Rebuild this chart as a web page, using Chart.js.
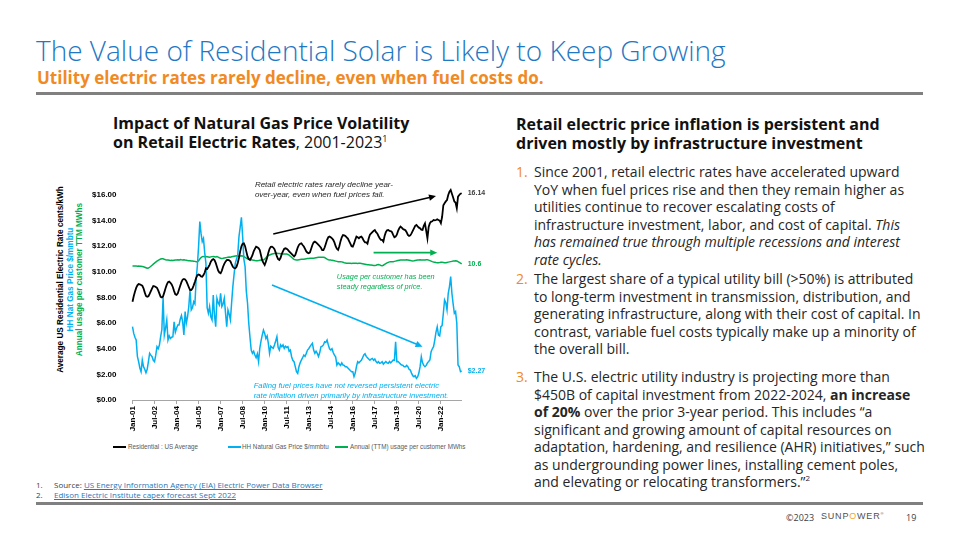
<!DOCTYPE html>
<html>
<head>
<meta charset="utf-8">
<script src="https://cdn.jsdelivr.net/npm/chart.js@4.4.0/dist/chart.umd.min.js"></script>
<style>
  html, body { margin:0; padding:0; background:#fff; }
  body { width:960px; height:540px; position:relative; overflow:hidden; font-family:'Open Sans', sans-serif; color:#1a1a1a; }
  .abs { position:absolute; white-space:nowrap; }
  #title { left:36px; top:36px; font-size:28px; line-height:28px; font-weight:300; color:#1f78c4; }
  #subtitle { left:37px; top:69px; font-size:17px; line-height:17px; font-weight:700; color:#f08a24; }
  .rule { position:absolute; background:#808080; }
  .h2 { font-size:16px; line-height:19px; font-weight:700; color:#111; }
  .item { font-size:14px; line-height:17.5px; color:#262626; }
  .num { color:#f08a24; }
  .foot { font-size:8px; line-height:9.5px; color:#404040; }
  .foot a { color:#2e75b6; text-decoration:underline; }
  .ytitle { position:absolute; width:300px; text-align:center; font-family:'Liberation Sans', Arial, sans-serif; font-weight:700; font-size:8.2px; transform:rotate(-90deg); transform-origin:center center; white-space:nowrap; }
  .leg { position:absolute; font-family:'Liberation Sans', Arial, sans-serif; font-size:6.3px; color:#595959; white-space:nowrap; }
  .legline { position:absolute; height:2px; }
  #chartwrap { position:absolute; left:40px; top:175px; width:480px; height:265px; }
</style>
</head>
<body>
<div id="title" class="abs">The Value of Residential Solar is Likely to Keep Growing</div>
<div id="subtitle" class="abs">Utility electric rates rarely decline, even when fuel costs do.</div>
<div class="rule" style="left:36px; top:92px; width:887px; height:3px;"></div>

<div class="abs h2" style="left:113px; top:114px;">Impact of Natural Gas Price Volatility<br>on Retail Electric Rates<span style="font-weight:400">, 2001-2023<sup style="font-size:9px; line-height:0;">1</sup></span></div>
<div class="abs h2" style="left:516px; top:115px;">Retail electric price inflation is persistent and<br>driven mostly by infrastructure investment</div>

<div class="abs item" style="left:516px; top:163px;"><span class="num">1.</span></div>
<div class="abs item" style="left:534px; top:163px;">Since 2001, retail electric rates have accelerated upward<br>YoY when fuel prices rise and then they remain higher as<br>utilities continue to recover escalating costs of<br>infrastructure investment, labor, and cost of capital. <i>This</i><br><i>has remained true through multiple recessions and interest</i><br><i>rate cycles.</i></div>
<div class="abs item" style="left:516px; top:270px;"><span class="num">2.</span></div>
<div class="abs item" style="left:534px; top:270px;">The largest share of a typical utility bill (&gt;50%) is attributed<br>to long-term investment in transmission, distribution, and<br>generating infrastructure, along with their cost of capital. In<br>contrast, variable fuel costs typically make up a minority of<br>the overall bill.</div>
<div class="abs item" style="left:516px; top:368px;"><span class="num">3.</span></div>
<div class="abs item" style="left:534px; top:368px;">The U.S. electric utility industry is projecting more than<br>$450B of capital investment from 2022-2024, <b>an increase</b><br><b>of 20%</b> over the prior 3-year period. This includes “a<br>significant and growing amount of capital resources on<br>adaptation, hardening, and resilience (AHR) initiatives,” such<br>as undergrounding power lines, installing cement poles,<br>and elevating or relocating transformers.”<sup style="font-size:8px; line-height:0;">2</sup></div>

<div class="abs foot" style="left:36px; top:480px;">1.</div>
<div class="abs foot" style="left:54px; top:480px;">Source: <a>US Energy Information Agency (EIA) Electric Power Data Browser</a></div>
<div class="abs foot" style="left:36px; top:489.5px;">2.</div>
<div class="abs foot" style="left:54px; top:489.5px;"><a>Edison Electric Institute capex forecast Sept 2022</a></div>
<div class="rule" style="left:36px; top:502px; width:887px; height:3px;"></div>
<div class="abs" style="left:786px; top:511px; font-size:9px; color:#404040;">©2023</div>
<div class="abs" style="left:821px; top:510.5px; font-size:9px; letter-spacing:0.8px; color:#505050; font-family:'Liberation Sans', Arial, sans-serif;">SUNP<span style="color:#f5a623;">O</span>WER<sup style="font-size:4px;">®</sup></div>
<div class="abs" style="left:906px; top:511px; font-size:9px; color:#404040;">19</div>

<div class="ytitle" style="left:-90px; top:275px; color:#000;">Average US Residential Electric Rate cents/kWh</div>
<div class="ytitle" style="left:-80px; top:275px; color:#00b0f0;">HH Nat Gas Price $/mmbtu</div>
<div class="ytitle" style="left:-71px; top:275px; color:#00b050;">Annual usage per customer TTM MWhs</div>

<div id="chartwrap"><canvas id="c" width="480" height="265"></canvas></div>

<div class="legline" style="left:113px; top:446px; width:13px; background:#000;"></div>
<div class="leg" style="left:128px; top:443px;">Residential : US Average</div>
<div class="legline" style="left:228px; top:446px; width:13px; background:#00b0f0;"></div>
<div class="leg" style="left:242px; top:443px;">HH Natural Gas Price $/mmbtu</div>
<div class="legline" style="left:335px; top:446px; width:13px; background:#00b050;"></div>
<div class="leg" style="left:350px; top:443px;">Annual (TTM) usage per customer MWhs</div>

<script>
// ---- DATA ----
const monthNames = ['Jan','Feb','Mar','Apr','May','Jun','Jul','Aug','Sep','Oct','Nov','Dec'];
const firstYear = 2001, lastYear = 2023, lastMonthIndex = 5; // Jan-01 .. Jun-23
const categories = [];
for (let y = firstYear; y <= lastYear; y++) {
  for (let m = 0; m < 12; m++) {
    if (y === lastYear && m > lastMonthIndex) break;
    categories.push(monthNames[m] + '-' + String(y).slice(2));
  }
}
const tickLabels = ['Jan-01','Jul-02','Jan-04','Jul-05','Jan-07','Jul-08','Jan-10','Jul-11','Jan-13','Jul-14','Jan-16','Jul-17','Jan-19','Jul-20','Jan-22'];
const yTicks = [0,2,4,6,8,10,12,14,16];

// Average US residential electric rate, cents/kWh (monthly)
const residential = [
  7.67, 8.10, 8.45, 8.75, 8.95, 9.05, 9.03, 8.98, 8.92, 8.72, 8.40, 8.12,
  8.06, 8.10, 8.28, 8.50, 8.72, 8.90, 8.88, 8.82, 8.75, 8.55, 8.30, 8.05,
  8.00, 8.10, 8.40, 8.72, 9.00, 9.20, 9.24, 9.15, 9.02, 8.80, 8.50, 8.25,
  8.20, 8.32, 8.62, 8.92, 9.20, 9.40, 9.45, 9.40, 9.28, 9.05, 8.80, 8.60,
  8.59, 8.70, 8.95, 9.22, 9.52, 9.75, 9.80, 9.75, 9.65, 9.62, 9.75, 9.95,
  10.28, 10.22, 10.38, 10.55, 10.80, 10.93, 11.00, 10.92, 10.70, 10.40, 10.10, 9.95,
  9.89, 10.10, 10.40, 10.62, 10.80, 10.92, 10.93, 10.90, 10.82, 10.60, 10.40, 10.30,
  10.28, 10.40, 10.70, 11.10, 11.60, 12.00, 12.20, 12.23, 12.00, 11.60, 11.20, 11.00,
  10.93, 11.10, 11.30, 11.60, 11.80, 11.97, 11.92, 11.85, 11.70, 11.30, 10.90, 10.70,
  10.54, 10.80, 11.10, 11.50, 11.80, 11.95, 11.97, 11.90, 11.78, 11.50, 11.20, 11.00,
  10.93, 11.10, 11.40, 11.62, 11.80, 11.84, 11.80, 11.72, 11.60, 11.50, 11.40, 11.30,
  11.20, 11.32, 11.60, 11.90, 12.10, 12.20, 12.23, 12.10, 11.98, 11.80, 11.60, 11.50,
  11.45, 11.52, 11.80, 12.10, 12.30, 12.36, 12.30, 12.20, 12.10, 12.00, 11.88, 11.70,
  11.70, 11.90, 12.20, 12.50, 12.70, 12.75, 12.70, 12.62, 12.50, 12.30, 12.00, 11.80,
  11.71, 12.00, 12.40, 12.70, 12.88, 12.85, 12.80, 12.70, 12.60, 12.40, 12.20, 12.00,
  11.97, 12.20, 12.50, 12.75, 12.70, 12.62, 12.72, 12.75, 12.62, 12.42, 12.30, 12.30,
  12.20, 12.60, 12.90, 13.00, 13.10, 13.20, 13.27, 13.10, 13.00, 12.80, 12.62, 12.50,
  12.49, 12.36, 12.80, 13.10, 13.25, 13.27, 13.20, 13.18, 13.10, 12.88, 12.70, 12.75,
  12.90, 13.20, 13.40, 13.53, 13.45, 13.35, 13.30, 13.25, 13.10, 12.88, 12.80, 12.85,
  13.00, 13.20, 13.40, 13.60, 13.66, 13.55, 13.45, 13.40, 13.30, 13.27, 13.60, 13.79,
  13.20, 12.62, 13.50, 13.80, 13.92, 13.95, 14.05, 14.02, 14.05, 14.10, 14.05, 14.00,
  13.80, 14.30, 15.20, 15.36, 15.50, 15.61, 16.00, 16.26, 16.39, 16.10, 15.80, 15.50,
  15.40, 14.97, 15.87, 16.00, 16.10, 16.14
];

// Henry Hub natural gas price, $/MMBtu (monthly)
const gasPrice = [
  5.72, 5.20, 4.90, 4.68, 3.40, 3.00, 2.50, 2.21, 3.12, 2.60, 2.40, 2.13,
  2.40, 3.00, 3.64, 3.50, 3.38, 3.10, 2.99, 3.50, 4.16, 4.00, 4.29, 4.94,
  5.50, 8.06, 5.07, 5.60, 6.25, 4.68, 5.00, 4.80, 4.90, 4.94, 6.11, 5.30,
  5.60, 5.85, 5.85, 6.30, 6.60, 6.10, 5.07, 6.90, 6.00, 6.50, 7.30, 8.59,
  7.03, 7.20, 7.67, 7.50, 9.37, 10.50, 11.97, 13.92, 13.00, 12.36, 12.60, 11.50,
  10.67, 7.20, 6.77, 7.30, 6.50, 6.25, 8.20, 6.60, 5.72, 7.94, 7.60, 7.42,
  8.33, 7.30, 7.50, 7.94, 6.80, 5.72, 7.03, 6.70, 6.25, 7.60, 8.85, 9.80,
  10.67, 11.00, 11.32, 12.75, 13.50, 14.26, 12.75, 11.00, 10.41, 8.50, 7.55, 5.99,
  4.90, 3.90, 3.64, 3.80, 3.51, 3.30, 3.60, 2.99, 4.03, 4.60, 5.07, 5.46,
  5.20, 4.80, 5.00, 4.42, 3.64, 4.20, 4.10, 4.03, 4.30, 4.60, 4.94, 4.10,
  3.90, 4.30, 4.16, 4.30, 4.03, 4.20, 4.10, 4.16, 3.80, 3.90, 3.38, 3.10,
  2.99, 2.60, 2.21, 2.08, 2.60, 2.90, 3.12, 3.30, 3.51, 3.40, 3.64, 3.90,
  4.00, 4.16, 4.30, 4.42, 3.90, 3.64, 3.80, 3.64, 3.40, 3.70, 4.16, 4.20,
  4.30, 4.55, 4.50, 4.68, 4.30, 4.00, 3.90, 4.00, 3.70, 3.50, 3.38, 2.73,
  2.90, 2.80, 2.70, 2.90, 2.73, 2.70, 2.60, 2.60, 2.50, 2.40, 2.30, 2.21,
  2.21, 1.82, 2.10, 2.60, 2.99, 2.90, 3.00, 3.10, 3.30, 3.51, 3.60, 3.40,
  3.30, 3.20, 3.10, 3.20, 3.25, 3.10, 3.20, 3.00, 2.90, 2.99, 2.86, 2.90,
  2.99, 2.80, 2.90, 3.00, 2.90, 2.86, 3.00, 2.90, 3.00, 3.12, 3.10, 4.55,
  2.99, 3.00, 2.90, 2.80, 2.73, 2.70, 2.60, 2.60, 2.70, 2.60, 2.40, 2.34,
  2.10, 1.90, 1.82, 1.90, 1.69, 1.80, 2.10, 2.60, 3.38, 2.90, 2.70, 2.60,
  2.70, 2.90, 3.00, 3.12, 3.77, 4.00, 4.16, 4.68, 5.30, 5.72, 5.07, 5.00,
  5.72, 5.80, 6.77, 7.81, 7.60, 7.03, 8.33, 8.85, 9.63, 8.33, 7.50, 6.77,
  6.90, 5.99, 2.73, 2.60, 2.21, 2.27
];

// Annual (TTM) usage per customer, MWh
const usage = [
  10.45, 10.45, 10.46, 10.45, 10.44, 10.45, 10.44, 10.43, 10.42, 10.40, 10.36, 10.32,
  10.28, 10.30, 10.36, 10.44, 10.52, 10.60, 10.68, 10.76, 10.84, 10.90, 10.96, 11.00,
  11.03, 11.02, 10.98, 10.95, 10.93, 10.92, 10.90, 10.88, 10.90, 10.88, 10.90, 10.92,
  10.93, 10.95, 10.92, 10.96, 10.94, 10.93, 10.95, 10.92, 10.90, 10.88, 10.87, 10.86,
  10.85, 10.84, 10.83, 10.82, 10.80, 10.80, 10.88, 11.00, 11.12, 11.19, 11.20, 11.18,
  11.20, 11.18, 11.16, 11.14, 11.17, 11.19, 11.20, 11.18, 11.16, 11.19, 11.15, 11.10,
  11.06, 11.05, 11.06, 11.08, 11.10, 11.12, 11.15, 11.16, 11.15, 11.18, 11.20, 11.22,
  11.24, 11.25, 11.24, 11.22, 11.24, 11.25, 11.24, 11.20, 11.14, 11.08, 11.02, 10.98,
  10.98, 10.95, 10.92, 10.90, 10.88, 10.87, 10.87, 10.88, 10.90, 10.92, 10.93, 10.93,
  11.00, 11.10, 11.20, 11.28, 11.32, 11.36, 11.40, 11.42, 11.44, 11.45, 11.45, 11.44,
  11.43, 11.42, 11.42, 11.40, 11.40, 11.40, 11.40, 11.36, 11.30, 11.22, 11.14, 11.05,
  10.98, 10.94, 10.93, 10.93, 10.95, 10.97, 10.98, 10.98, 10.98, 11.00, 11.02, 11.04,
  11.05, 11.06, 11.06, 11.06, 11.06, 11.08, 11.10, 11.12, 11.14, 11.14, 11.14, 11.14,
  11.14, 11.12, 11.06, 11.00, 10.95, 10.93, 10.93, 10.90, 10.88, 10.86, 10.84, 10.82,
  10.80, 10.80, 10.80, 10.78, 10.75, 10.72, 10.70, 10.68, 10.67, 10.67, 10.67, 10.66,
  10.67, 10.68, 10.68, 10.67, 10.66, 10.67, 10.67, 10.66, 10.64, 10.62, 10.60, 10.58,
  10.56, 10.55, 10.54, 10.54, 10.52, 10.50, 10.50, 10.52, 10.55, 10.58, 10.55, 10.50,
  10.48, 10.52, 10.58, 10.64, 10.70, 10.74, 10.78, 10.80, 10.80, 10.80, 10.82, 10.84,
  10.86, 10.88, 10.90, 10.92, 10.93, 10.93, 10.92, 10.93, 10.94, 10.92, 10.90, 10.88,
  10.86, 10.85, 10.86, 10.88, 10.90, 10.92, 10.93, 10.94, 10.93, 10.93, 10.92, 10.93,
  10.94, 10.95, 10.92, 10.88, 10.84, 10.80, 10.77, 10.75, 10.73, 10.72, 10.72, 10.73,
  10.75, 10.76, 10.74, 10.72, 10.72, 10.74, 10.76, 10.78, 10.80, 10.82, 10.84, 10.85,
  10.86, 10.85, 10.80, 10.74, 10.68, 10.62
];

const endLabels = ['16.14', '$2.27', '10.6'];

// Annotation arrows & notes (in data space: [category index, value])
const arrows = [
  { from:[115, 12.96], to:[248, 15.92], color:'#000000' },
  { from:[197, 11.5],  to:[249, 11.5],  color:'#00b050' },
  { from:[114, 8.98],  to:[237, 4.16],  color:'#00b0f0' }
];
const notes = [
  { at:[100, 16.78], color:'#262626', size:8,   lines:['Retail electric rates rarely decline year-', 'over-year, even when fuel prices fall.'] },
  { at:[167, 9.63],  color:'#00b050', size:7.3, lines:['Usage per customer has been', 'steady regardless of price.'] },
  { at:[99, 1.09],   color:'#00b0f0', size:7.7, lines:['Falling fuel prices have not reversed persistent electric', 'rate inflation driven primarily by infrastructure investment.'] }
];

const COLORS = { res:'#000000', gas:'#00b0f0', use:'#00b050' };

const annotationPlugin = {
  id: 'annot',
  afterDatasetsDraw(chart) {
    const { ctx, scales: { x, y } } = chart;
    ctx.save();
    arrows.forEach(a => {
      const x1 = x.getPixelForValue(a.from[0]), y1 = y.getPixelForValue(a.from[1]);
      const x2 = x.getPixelForValue(a.to[0]),   y2 = y.getPixelForValue(a.to[1]);
      const ang = Math.atan2(y2 - y1, x2 - x1);
      const hl = 7, hw = 3.2;
      ctx.strokeStyle = a.color; ctx.fillStyle = a.color; ctx.lineWidth = 1.6;
      ctx.beginPath(); ctx.moveTo(x1, y1);
      ctx.lineTo(x2 - Math.cos(ang) * hl * 0.8, y2 - Math.sin(ang) * hl * 0.8); ctx.stroke();
      ctx.beginPath();
      ctx.moveTo(x2, y2);
      ctx.lineTo(x2 - Math.cos(ang) * hl - Math.sin(ang) * hw, y2 - Math.sin(ang) * hl + Math.cos(ang) * hw);
      ctx.lineTo(x2 - Math.cos(ang) * hl + Math.sin(ang) * hw, y2 - Math.sin(ang) * hl - Math.cos(ang) * hw);
      ctx.closePath(); ctx.fill();
    });
    ctx.textBaseline = 'middle'; ctx.textAlign = 'left';
    notes.forEach(n => {
      ctx.font = 'italic ' + n.size + 'px "Liberation Sans", Arial, sans-serif';
      const px = x.getPixelForValue(n.at[0]), py = y.getPixelForValue(n.at[1]);
      ctx.fillStyle = n.color;
      n.lines.forEach((l, i) => ctx.fillText(l, px, py + i * 10));
    });
    ctx.font = 'bold 7px "Liberation Sans", Arial, sans-serif';
    const last = categories.length - 1;
    const ends = [
      { v: residential[last], c:'#404040', t:endLabels[0] },
      { v: gasPrice[last],    c:'#00b0f0', t:endLabels[1] },
      { v: usage[last],       c:'#00b050', t:endLabels[2] }
    ];
    ends.forEach(e => {
      ctx.fillStyle = e.c;
      ctx.fillText(e.t, x.getPixelForValue(last) + 6, y.getPixelForValue(e.v));
    });
    ctx.restore();
  }
};

new Chart(document.getElementById('c'), {
  type: 'line',
  data: {
    labels: categories,
    datasets: [
      { label:'Residential : US Average', data: residential, borderColor: COLORS.res, borderWidth: 1.8, pointRadius: 0, tension: 0, clip: false },
      { label:'HH Natural Gas Price $/mmbtu', data: gasPrice, borderColor: COLORS.gas, borderWidth: 1.5, pointRadius: 0, tension: 0, clip: false },
      { label:'Annual (TTM) usage per customer MWhs', data: usage, borderColor: COLORS.use, borderWidth: 1.5, pointRadius: 0, tension: 0, clip: false }
    ]
  },
  options: {
    responsive: false,
    animation: false,
    devicePixelRatio: 1,
    layout: { padding: { top: 20, right: 58.3, left: 0, bottom: 0 } },
    plugins: { legend: { display: false }, tooltip: { enabled: false } },
    scales: {
      x: {
        type: 'category',
        offset: false,
        afterBuildTicks: axis => { axis.ticks = axis.ticks.filter(t => tickLabels.includes(categories[t.value])); },
        afterFit: axis => { axis.height = 40; },
        ticks: {
          autoSkip: false, minRotation: 90, maxRotation: 90, padding: 2,
          color: '#000', font: { family: '"Liberation Sans", Arial, sans-serif', size: 8, weight: 'bold' },
          callback: (v, i) => tickLabels[i]
        },
        grid: { display: true, drawOnChartArea: false, drawTicks: true, tickLength: 4, color: '#a6a6a6' },
        border: { display: true, color: '#a6a6a6', width: 1 }
      },
      y: {
        min: 0, max: 16,
        afterBuildTicks: axis => { axis.ticks = yTicks.map(v => ({ value: v })); },
        afterFit: axis => { axis.width = 92.5; },
        ticks: {
          padding: 8, color: '#000',
          font: { family: '"Liberation Sans", Arial, sans-serif', size: 8, weight: 'bold' },
          callback: v => '$' + Number(v).toFixed(2)
        },
        grid: { display: false },
        border: { display: false }
      }
    }
  },
  plugins: [annotationPlugin]
});
</script>
</body>
</html>
